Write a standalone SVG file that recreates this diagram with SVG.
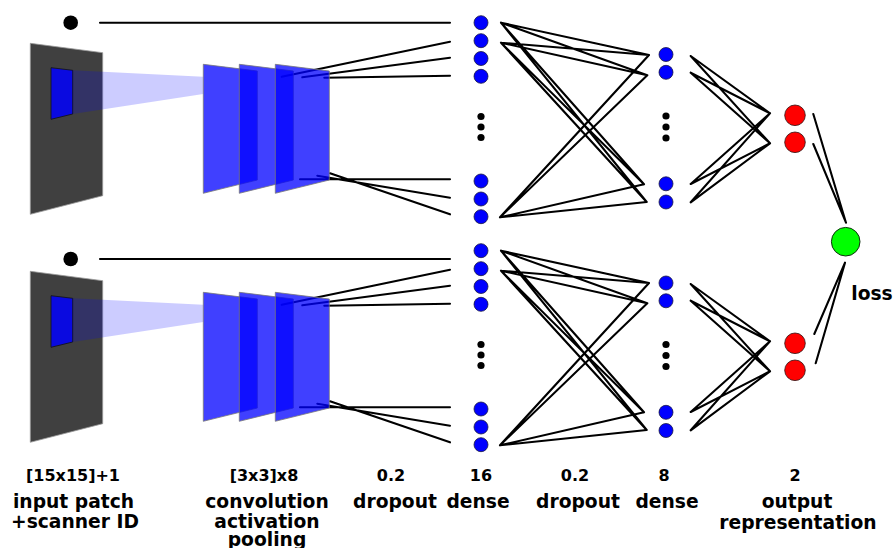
<svg xmlns="http://www.w3.org/2000/svg" width="894" height="548" viewBox="0 0 894 548">
<style>
.t{font-family:"DejaVu Sans","Liberation Sans",sans-serif;font-weight:bold;font-size:18.7px;text-anchor:middle;fill:#000}
.n{font-size:16px}
.ln{stroke:#000;stroke-width:2.1;fill:none;stroke-linecap:round}
.bn{fill:#0000ff;stroke:#1a1a40;stroke-width:0.8}
.dt{fill:#000}
.rn{fill:#ff0000;stroke:#301010;stroke-width:0.8}
.gn{fill:#00ff00;stroke:#103010;stroke-width:1}
.panel{fill:#404040;stroke:#999;stroke-width:0.8}
.patch{fill:#0a0ae0;stroke:#111;stroke-width:0.8}
.beam{fill:#0000ff;fill-opacity:0.2}
.conv{fill:#0000ff;fill-opacity:0.75;stroke:#777;stroke-width:0.8}
</style>
<defs>
<g id="halfShapes">
<polygon class="panel" points="30.3,43.3 102.7,52.7 102.7,195.7 30.3,214.3"/>
<polygon class="patch" points="51,67.7 72.7,70.3 72.7,114 51,119.3"/>
<polygon class="beam" points="72.7,70.3 203.3,76.7 203.3,94 72.7,114"/>
<polygon class="conv" points="203.3,64.3 257.3,71 257.3,180 203.3,193.3"/>
<polygon class="conv" points="239.3,64.3 293.3,71 293.3,180 239.3,193.3"/>
<polygon class="conv" points="275.3,64.3 329.3,71 329.3,180 275.3,193.3"/>
</g>
<g id="halfLines">
<path class="ln" d="M281.7 76.7L450 41.7M302.3 77.3L450 57.7M324.3 77.7L450 75.7M300 179.3L450 179.3M317.3 175.7L450 197.7M330 173.3L450 214.3"/>
<path class="ln" d="M501 22.7L649 55M501 22.7L647.3 75.3M501 22.7L644 184.3M501 22.7L646.7 202M501 42.7L649 55M501 42.7L647.3 75.3M501 42.7L644 184.3M501 42.7L646.7 202M500 217.3L649 55M500 217.3L647.3 75.3M500 217.3L644 184.3M500 217.3L646.7 202"/>
<path class="ln" d="M690.7 56L770 113.3M690.7 56L770 143.3M690.7 72.7L770 113.3M690.7 72.7L770 143.3M690.7 184L770 113.3M690.7 184L770 143.3M690.7 202.3L770 113.3M690.7 202.3L770 143.3"/>
</g>
<g id="dense16">
<circle class="bn" cx="481" cy="22.7" r="7"/>
<circle class="bn" cx="481" cy="40.7" r="7"/>
<circle class="bn" cx="481" cy="58.5" r="7"/>
<circle class="bn" cx="481" cy="76.3" r="7"/>
<circle class="dt" cx="481" cy="116.5" r="3.6"/>
<circle class="dt" cx="481" cy="127" r="3.6"/>
<circle class="dt" cx="481" cy="137.5" r="3.6"/>
<circle class="bn" cx="481" cy="181" r="7"/>
<circle class="bn" cx="481" cy="199" r="7"/>
<circle class="bn" cx="481" cy="216.7" r="7"/>
</g>
<g id="dense8">
<circle class="bn" cx="666" cy="54.5" r="7"/>
<circle class="bn" cx="666" cy="72.3" r="7"/>
<circle class="dt" cx="666" cy="116" r="3.6"/>
<circle class="dt" cx="666" cy="127" r="3.6"/>
<circle class="dt" cx="666" cy="138" r="3.6"/>
<circle class="bn" cx="666" cy="183.8" r="7"/>
<circle class="bn" cx="666" cy="202" r="7"/>
</g>
<g id="out2">
<circle class="rn" cx="795" cy="115.3" r="10.3"/>
<circle class="rn" cx="795" cy="142.3" r="10.3"/>
</g>
</defs>

<g id="connectors">
<path class="ln" d="M100 22.7H450M100 259H450"/>
<use href="#halfLines"/>
<use href="#halfLines" transform="translate(0,228)"/>
<path class="ln" d="M813.3 114L846 222.7M813.3 144L846 222.7M814.3 334L845 262.7M815.7 363.3L845 262.7"/>
</g>

<g id="input-top">
<circle class="dt" cx="70.7" cy="22.7" r="7.3"/>
<use href="#halfShapes"/>
</g>
<g id="input-bottom">
<circle class="dt" cx="70.7" cy="259" r="7.3"/>
<use href="#halfShapes" transform="translate(0,228)"/>
</g>
<g id="dense16-top"><use href="#dense16"/></g>
<g id="dense16-bottom"><use href="#dense16" transform="translate(0,228)"/></g>
<g id="dense8-top"><use href="#dense8"/></g>
<g id="dense8-bottom"><use href="#dense8" transform="translate(0,228.5)"/></g>
<g id="output-top"><use href="#out2"/></g>
<g id="output-bottom"><use href="#out2" transform="translate(0,228)"/></g>
<g id="loss">
<circle class="gn" cx="845.7" cy="241.7" r="14.3"/>
<text class="t" x="872" y="299.5">loss</text>
</g>

<g id="labels">
<text class="t n" x="73" y="481">[15x15]+1</text>
<text class="t n" x="264" y="481">[3x3]x8</text>
<text class="t n" x="391" y="481">0.2</text>
<text class="t n" x="481" y="481">16</text>
<text class="t n" x="575" y="481">0.2</text>
<text class="t n" x="664" y="481">8</text>
<text class="t n" x="795" y="481">2</text>
<text class="t" x="73.5" y="508">input patch</text>
<text class="t" x="75" y="527.5">+scanner ID</text>
<text class="t" x="267" y="508">convolution</text>
<text class="t" x="267" y="527.5">activation</text>
<text class="t" x="267" y="546">pooling</text>
<text class="t" x="395" y="508">dropout</text>
<text class="t" x="478" y="508">dense</text>
<text class="t" x="578" y="508">dropout</text>
<text class="t" x="667" y="508">dense</text>
<text class="t" x="797" y="508">output</text>
<text class="t" x="798" y="529">representation</text>
</g>
</svg>
